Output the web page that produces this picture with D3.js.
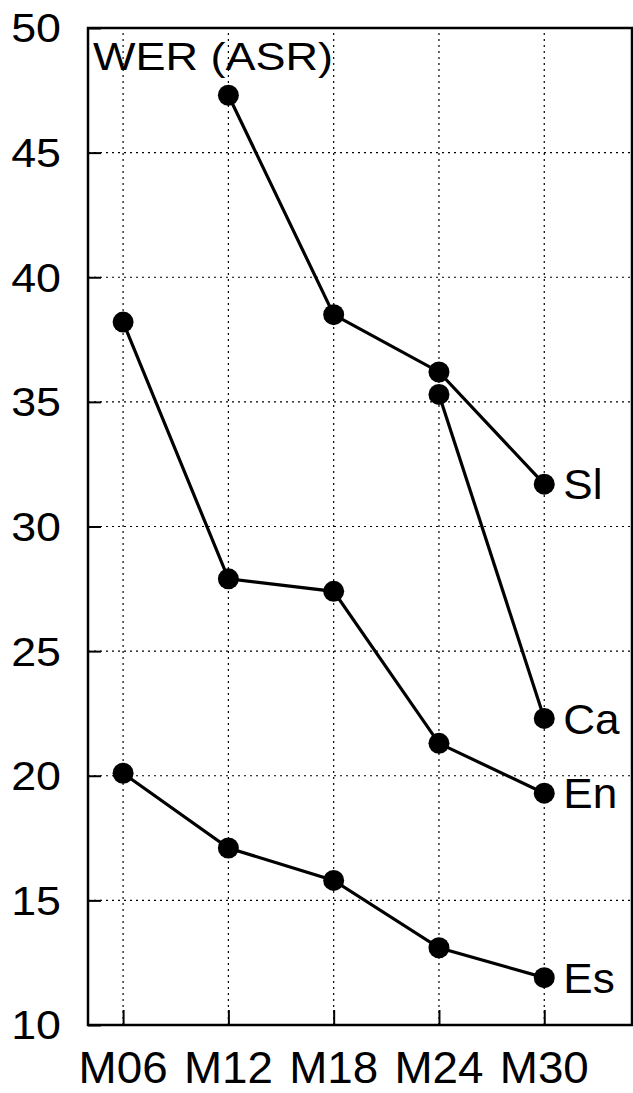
<!DOCTYPE html>
<html>
<head>
<meta charset="utf-8">
<script src="https://cdn.jsdelivr.net/npm/d3@7"></script>
<style>
  body { margin: 0; background: #fff; }
  svg { display: block; font-family: "Liberation Sans", Arial, sans-serif; }
</style>
</head>
<body>
<div class="container"></div>
<script>
  const months = [6, 12, 18, 24, 30];
  const monthLabels = ['M06', 'M12', 'M18', 'M24', 'M30'];
  const yTicks = [10, 15, 20, 25, 30, 35, 40, 45, 50];

  // WER per language, null where there is no measurement
  const sl = [null, 47.3, 38.5, 36.2, 31.7];
  const ca = [null, null, null, 35.3, 22.3];
  const en = [38.2, 27.9, 27.4, 21.3, 19.3];
  const es = [20.1, 17.1, 15.8, 13.1, 11.9];

  const series = [
    { name: 'Sl', values: sl },
    { name: 'Ca', values: ca },
    { name: 'En', values: en },
    { name: 'Es', values: es }
  ];

  const width = 633;
  const height = 1093;
  const padding = { top: 28, right: 1, bottom: 68, left: 88 };

  const svg = d3.select('.container')
    .append('svg')
    .attr('width', width)
    .attr('height', height);

  const xScale = d3.scaleLinear()
    .domain([4, 35])
    .range([padding.left, width - padding.right]);

  const yScale = d3.scaleLinear()
    .domain([10, 50])
    .range([height - padding.bottom, padding.top]);

  const x0 = padding.left, x1 = width - padding.right;
  const y0 = height - padding.bottom, y1 = padding.top;

  // Dotted grid
  const grid = svg.append('g')
    .attr('stroke', '#000')
    .attr('stroke-width', 1.2)
    .attr('stroke-dasharray', '2,4');

  grid.selectAll('.hgrid')
    .data(yTicks.slice(1, -1))
    .enter()
    .append('line')
    .attr('x1', x0)
    .attr('x2', x1)
    .attr('y1', d => yScale(d))
    .attr('y2', d => yScale(d));

  grid.selectAll('.vgrid')
    .data(months)
    .enter()
    .append('line')
    .attr('x1', d => xScale(d))
    .attr('x2', d => xScale(d))
    .attr('y1', y0)
    .attr('y2', y1);

  // Axes with inward ticks
  const yAxis = svg.append('g')
    .attr('transform', `translate(${x0}, 0)`)
    .call(d3.axisRight(yScale).tickValues(yTicks).tickSize(13).tickSizeOuter(0).tickFormat(''));
  yAxis.select('.domain').remove();
  yAxis.selectAll('line').attr('stroke-width', 2);

  const xAxis = svg.append('g')
    .attr('transform', `translate(0, ${y0})`)
    .call(d3.axisTop(xScale).tickValues(months).tickSize(15).tickSizeOuter(0).tickFormat(''));
  xAxis.select('.domain').remove();
  xAxis.selectAll('line').attr('stroke-width', 2);

  // Tick labels (the original font is a little wider than Arial)
  svg.selectAll('.ylabel')
    .data(yTicks)
    .enter()
    .append('text')
    .attr('transform', d => `translate(61, ${yScale(d)}) scale(1.12, 1)`)
    .attr('dy', '0.36em')
    .attr('text-anchor', 'end')
    .attr('font-size', 40)
    .text(d => d);

  svg.selectAll('.xlabel')
    .data(months)
    .enter()
    .append('text')
    .attr('transform', d => `translate(${xScale(d)}, 1083) scale(1.04, 1)`)
    .attr('text-anchor', 'middle')
    .attr('font-size', 44)
    .text((d, i) => monthLabels[i]);

  // Frame
  svg.append('rect')
    .attr('x', x0)
    .attr('y', y1)
    .attr('width', x1 - x0)
    .attr('height', y0 - y1)
    .attr('fill', 'none')
    .attr('stroke', '#000')
    .attr('stroke-width', 2.5);

  svg.append('text')
    .attr('transform', 'translate(93, 70) scale(1.14, 1)')
    .attr('font-size', 39.5)
    .text('WER (ASR)');

  // Lines and markers
  const line = d3.line()
    .defined(d => d.v !== null)
    .x(d => xScale(d.m))
    .y(d => yScale(d.v));

  series.forEach(s => {
    const pts = s.values.map((v, i) => ({ m: months[i], v: v }));
    svg.append('path')
      .datum(pts)
      .attr('d', line)
      .attr('fill', 'none')
      .attr('stroke', '#000')
      .attr('stroke-width', 3.2);

    svg.selectAll(null)
      .data(pts.filter(d => d.v !== null))
      .enter()
      .append('circle')
      .attr('cx', d => xScale(d.m))
      .attr('cy', d => yScale(d.v))
      .attr('r', 10.5)
      .attr('fill', '#000');

    const last = pts[pts.length - 1];
    svg.append('text')
      .attr('transform', `translate(${xScale(last.m) + 19}, ${yScale(last.v)}) scale(1.05, 1)`)
      .attr('dy', '0.36em')
      .attr('font-size', 42)
      .text(s.name);
  });
</script>
</body>
</html>
